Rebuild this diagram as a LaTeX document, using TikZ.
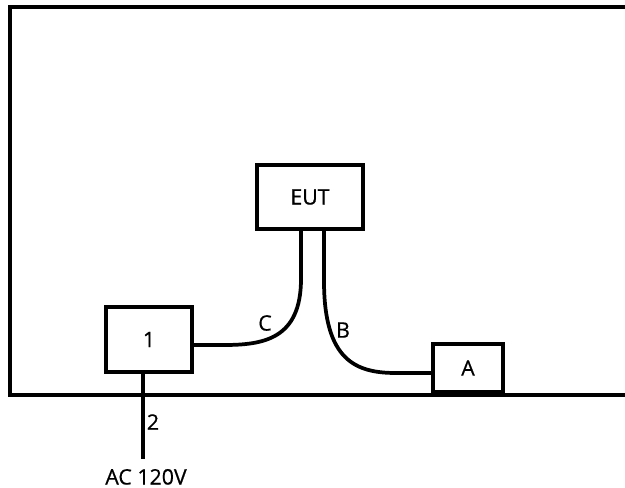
\documentclass[tikz,border=0pt]{standalone}
\usepackage{fontspec}
\setmainfont{Open Sans}[FakeBold=0.6]
\usetikzlibrary{calc}
\begin{document}
\begin{tikzpicture}[x=0.75pt,y=-0.75pt,
  thick line/.style={line width=2.8pt},
  boxnode/.style={draw,line width=2.8pt,inner sep=0pt,font=\fontsize{16}{18}\selectfont},
  lbl/.style={font=\fontsize{16}{18}\selectfont,inner sep=0pt}]
\useasboundingbox (0,0) rectangle (625,488);
\clip (0,0) rectangle (625,488);
\fill[white] (0,0) rectangle (625,488);
% outer frame
\draw[thick line] (640,7) -- (10,7) -- (10,395) -- (640,395);
% boxes
\node[boxnode,minimum width=106*0.75pt,minimum height=64*0.75pt] (eut) at (310,197) {EUT};
\node[boxnode,minimum width=86*0.75pt,minimum height=65*0.75pt] (one) at (149,339.5) {1};
\node[boxnode,minimum width=70*0.75pt,minimum height=48*0.75pt] (a) at (468,368) {A};
% cable C
\coordinate (cs) at ($(eut.south)+(-9,0)$);
\coordinate (ce) at (one.east |- 0,345);
\draw[thick line] (cs) -- ++(0,48) .. controls ++(0,60) and ++(40,0) .. ($(ce)+(30,0)$) -- (ce);
% cable B
\coordinate (bs) at ($(eut.south)+(14,0)$);
\coordinate (be) at (a.west |- 0,373);
\draw[thick line] (bs) -- ++(0,50) .. controls ++(0,80) and ++(-40,0) .. ($(be)+(-35,0)$) -- (be);
% power line
\coordinate (ps) at ($(one.south)+(-6,0)$);
\coordinate (pe) at (143,459);
\draw[thick line] (ps) -- (pe);
\node[lbl,anchor=south] (acl) at (146,485) {AC 120V};
% labels
\node[lbl] (lc) at (265,323) {C};
\node[lbl] (lb) at (343,330) {B};
\node[lbl] (l2) at (153,422) {2};
\end{tikzpicture}
\end{document}
